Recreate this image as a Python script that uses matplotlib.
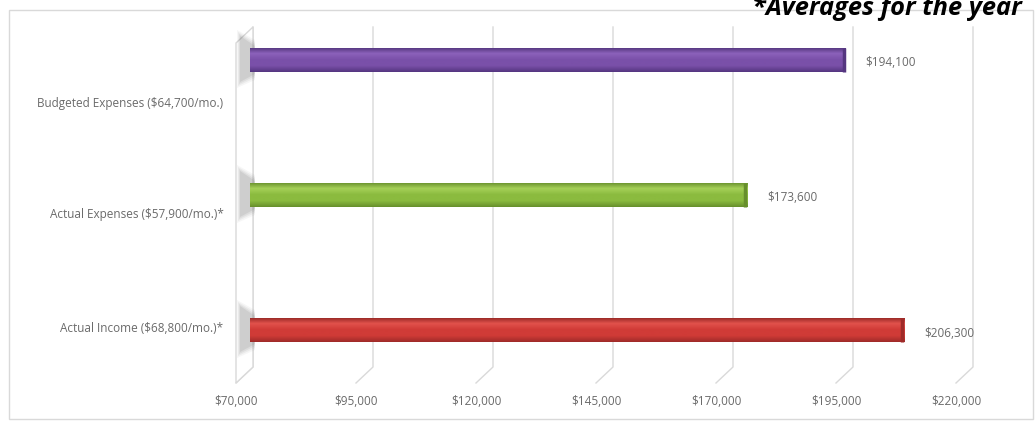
import numpy as np
import matplotlib
matplotlib.use('Agg')
import matplotlib.pyplot as plt
from matplotlib import transforms, font_manager
from matplotlib.lines import Line2D
from matplotlib.patches import Polygon, Rectangle
from matplotlib.colors import LinearSegmentedColormap

# data
categories = ['Actual Income ($68,800/mo.)*',
              'Actual Expenses ($57,900/mo.)*',
              'Budgeted Expenses ($64,700/mo.)']
values = [206300, 173600, 194100]
xticks = [70000, 95000, 120000, 145000, 170000, 195000, 220000]
note = '*Averages for the year'

# top edge -> highlight -> body -> bottom edge
shades = [
    ['#8f2422', '#e2524c', '#d03b37', '#9f2b29'],
    ['#648c2a', '#a6d158', '#8bbb3f', '#678f2c'],
    ['#4f3278', '#8c62bb', '#7a50a9', '#553680'],
]
label_dy = [-3, 18, 42]   # category labels sit lower than bars (3d look)

installed = {f.name for f in font_manager.fontManager.ttflist}
def pick(*names):
    for n in names:
        if n in installed:
            return n
    return 'DejaVu Sans'

body_font = pick('Open Sans', 'Lato', 'Liberation Sans')
title_font = pick('Open Sans', 'Liberation Sans')
grey = '#6a6a6a'
line_grey = '#d9d9d9'

W, H = 1036, 423
fig = plt.figure(figsize=(W / 100, H / 100), dpi=100)

def px(dx, dy):
    return transforms.ScaledTranslation(dx / 100, -dy / 100, fig.dpi_scale_trans)

# axes: 70k at x=250, 220k at x=970, top y=27, back floor y=367
ax = fig.add_axes([250 / W, 1 - 367 / H, 720 / W, 340 / H])
ax.set_zorder(1)
ax.patch.set_alpha(0)
for s in ax.spines.values():
    s.set_visible(False)

ypos = np.arange(len(categories))
bar_h = 0.178
bars = ax.barh(ypos, np.array(values) - xticks[0], left=xticks[0], height=bar_h,
               color=[c[2] for c in shades], zorder=3)

# cylinder-like shading on each bar
for b, sh in zip(bars, shades):
    cmap = LinearSegmentedColormap.from_list('b', [sh[0], sh[1], sh[2], sh[2], sh[3]])
    grad = np.linspace(0, 1, 64).reshape(-1, 1)
    x0, y0, w, h = b.get_x(), b.get_y(), b.get_width(), b.get_height()
    im = ax.imshow(grad, cmap=cmap, aspect='auto', origin='upper',
                   extent=(x0, x0 + w, y0, y0 + h), zorder=4)
    im.set_clip_path(b)
    ax.add_patch(Rectangle((x0 + w, y0), 1, h, zorder=5, lw=2.5, ec=sh[3], fc=sh[3],
                           transform=ax.transData + px(-2, 0)))
ax.set_xlim(xticks[0], xticks[-1])
ax.set_ylim(-0.274, 2.244)

# value labels
for y, v in zip(ypos, values):
    ax.text(v, y, f'${v:,.0f}', transform=ax.transData + px(20, 3),
            va='center', ha='left', fontsize=8.5, color=grey, family=body_font)

ax.set_xticks(xticks)
ax.set_xticklabels([f'${t:,.0f}' for t in xticks])
ax.set_yticks(ypos)
ax.set_yticklabels(categories)
ax.tick_params(length=0, colors=grey, labelsize=8.5)
ax.tick_params(axis='x', pad=20)
ax.tick_params(axis='y', pad=19)
for lab in ax.get_xticklabels():
    lab.set_family(body_font)
    lab.set_transform(lab.get_transform() + px(-14, 0))
for lab, dy in zip(ax.get_yticklabels(), label_dy):
    lab.set_family(body_font)
    lab.set_transform(lab.get_transform() + px(0, dy))

# 3d gridlines: back vertical line + floor diagonal to the front
fig.canvas.draw()
blend = transforms.blended_transform_factory(ax.transData, ax.transAxes)
ident = transforms.IdentityTransform()
for t in xticks:
    bx, by0 = blend.transform((t, 0))
    _, by1 = blend.transform((t, 1))
    bx += 3
    fx, fy = bx - 17, by0 - 16
    fig.add_artist(Line2D([fx, bx, bx], [fy, by0, by1], color=line_grey, lw=1,
                          transform=ident, zorder=-3))
    if t == xticks[0]:
        wall = Polygon([[fx, fy], [bx, by0], [bx, by1], [fx, by1 - 16]], closed=True,
                       fc='white', ec=line_grey, lw=1, transform=ident, zorder=-2)
        fig.add_artist(wall)
        # soft shadows where bars meet the wall
        for b in bars:
            _, ya = ax.transData.transform((0, b.get_y()))
            _, yb = ax.transData.transform((0, b.get_y() + b.get_height()))
            for k, a in enumerate([0.05, 0.07, 0.09, 0.11]):
                g = 8 - 2 * k
                sh = Polygon([[fx + 1 + k, ya - 8 - g], [bx + 2, ya - g],
                              [bx + 2, yb + g], [fx + 1 + k, yb + 10 + g]],
                             fc='#5a5a5a', ec='none', alpha=a, transform=ident, zorder=-1)
                fig.add_artist(sh)

# outer frame
fig.add_artist(Rectangle((9 / W, 1 - 419 / H), 1024 / W, 409 / H, transform=fig.transFigure,
                         fill=False, ec=line_grey, lw=1, zorder=-4))

# note, clipped at the top like the original
txt = fig.text(1022 / W, 1 - 15 / H, note, ha='right', va='baseline', fontsize=17,
               fontweight='bold', fontstyle='italic', family=title_font, color='black',
               zorder=5)
fig.canvas.draw()
w = txt.get_window_extent().width
txt.set_fontsize(17 * 270 / w)

fig.savefig('out.png', dpi=100)
